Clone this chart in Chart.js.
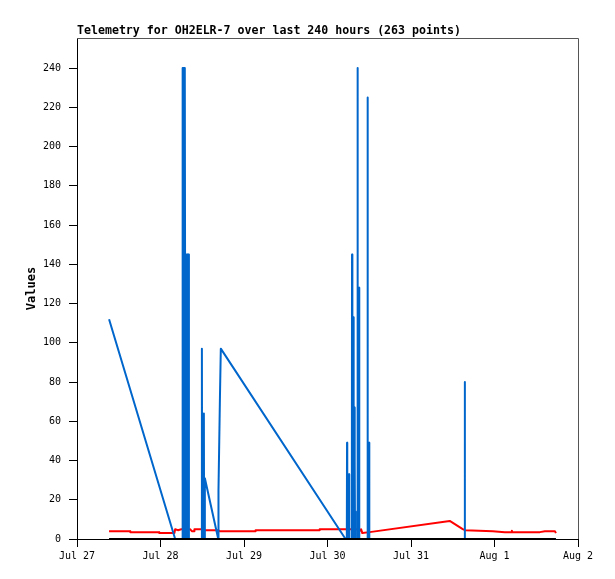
<!DOCTYPE html>
<html>
<head>
<meta charset="utf-8">
<title>Telemetry for OH2ELR-7</title>
<script src="https://cdn.jsdelivr.net/npm/chart.js@4.4.1/dist/chart.umd.min.js"></script>
<style>
  html, body { margin: 0; padding: 0; background: #fff; }
  #chart { display: block; }
</style>
</head>
<body>
<canvas id="chart" width="615" height="579"></canvas>
<script>
/* ===============================
      DATA (times are "MM-DD HH:MM")
   =============================== */
const chartTitle = "Telemetry for OH2ELR-7 over last 240 hours (263 points)";
const yAxisLabel = "Values";

const xTickHours = [0, 24, 48, 72, 96, 120, 144];
const xTickLabels = ["Jul 27", "Jul 28", "Jul 29", "Jul 30", "Jul 31", "Aug 1", "Aug 2"];
const yTickValues = [0, 20, 40, 60, 80, 100, 120, 140, 160, 180, 200, 220, 240];

const blueTimes = [
  "07-27 09:13", "07-28 04:13", "07-28 06:14",
  "07-28 06:18", "07-28 06:26", "07-28 06:34", "07-28 06:42", "07-28 06:50", "07-28 06:56",
  "07-28 07:02", "07-28 07:10", "07-28 07:20", "07-28 07:30", "07-28 07:40", "07-28 07:50",
  "07-28 08:00", "07-28 08:10", "07-28 08:14",
  "07-28 11:50", "07-28 11:54", "07-28 11:58", "07-28 12:24", "07-28 12:28", "07-28 12:32",
  "07-28 12:44", "07-28 12:46", "07-28 16:36",
  "07-28 16:40", "07-28 17:05", "07-28 17:20", "07-30 05:11",
  "07-30 05:33", "07-30 05:37", "07-30 05:41", "07-30 06:07", "07-30 06:11", "07-30 06:15",
  "07-30 06:59", "07-30 07:03", "07-30 07:09", "07-30 07:25", "07-30 07:29", "07-30 07:33",
  "07-30 07:44", "07-30 07:47", "07-30 07:49", "07-30 07:51", "07-30 07:55",
  "07-30 08:02", "07-30 08:04", "07-30 08:08",
  "07-30 08:34", "07-30 08:38", "07-30 08:42", "07-30 09:00", "07-30 09:04", "07-30 09:08",
  "07-30 11:27", "07-30 11:31", "07-30 11:35", "07-30 11:53", "07-30 11:57", "07-30 12:01",
  "07-31 15:23", "07-31 15:27", "07-31 15:31", "08-01 17:39"
];
const blueValues = [
  112, 0, 0,
  240, 0, 240, 0, 240, 0,
  240, 0, 145, 0, 145, 0,
  145, 0, 0,
  0, 97, 0, 0, 64, 0,
  0, 31, 0,
  25, 72, 97, 0,
  0, 49, 0, 0, 33, 0,
  0, 145, 0, 0, 113, 0,
  0, 67, 0, 40, 0,
  0, 14, 0,
  0, 240, 0, 0, 128, 0,
  0, 225, 0, 0, 49, 0,
  0, 80, 0, 0
];

const redTimes = [
  "07-27 09:13", "07-27 15:16", "07-27 15:20", "07-27 23:37", "07-27 23:40", "07-28 04:00",
  "07-28 04:13", "07-28 05:00", "07-28 06:00", "07-28 08:30", "07-28 09:00", "07-28 09:40",
  "07-28 09:45", "07-28 12:00", "07-28 12:30", "07-28 16:40", "07-28 17:00", "07-29 03:16",
  "07-29 03:20", "07-29 21:40", "07-29 21:45", "07-30 09:00", "07-30 09:20", "07-30 09:40",
  "07-30 10:00", "07-30 12:06", "07-31 11:08", "07-31 14:52", "07-31 15:30", "07-31 23:31",
  "08-01 02:58", "08-01 04:55", "08-01 05:00", "08-01 05:05", "08-01 13:03", "08-01 14:29",
  "08-01 17:22", "08-01 17:39"
];
const redValues = [
  4.0, 4.0, 3.5, 3.5, 3.0, 3.0,
  5.0, 4.5, 5.0, 5.0, 4.0, 4.0,
  5.0, 5.0, 4.5, 4.5, 4.0, 4.0,
  4.5, 4.5, 5.0, 5.0, 4.2, 5.0,
  3.0, 3.5, 9.2, 5.0, 4.5, 4.0,
  3.5, 3.5, 4.2, 3.5, 3.5, 4.0,
  4.0, 3.0
];

const blackTimes = ["07-27 09:13", "08-01 17:39"];
const blackValues = [0, 0];

/* ===============================
      HELPERS
   =============================== */
// hours since Jul 27 00:00
function toHours(stamp) {
  const [date, time] = stamp.split(" ");
  const [mon, day] = date.split("-").map(Number);
  const [hh, mm] = time.split(":").map(Number);
  const dayOffset = mon === 7 ? day - 27 : 4 + day;
  return dayOffset * 24 + hh + mm / 60;
}

function toPoints(times, values) {
  return times.map((t, i) => ({ x: toHours(t), y: values[i] }));
}

const FONT = '"DejaVu Sans Mono", "Liberation Mono", monospace';

// title, y label and plot frame
const decorPlugin = {
  id: "decor",
  afterDraw(chart) {
    const { ctx, chartArea } = chart;
    ctx.save();
    ctx.strokeStyle = "#555";
    ctx.lineWidth = 1;
    ctx.beginPath();
    ctx.moveTo(chartArea.left, chartArea.top + 0.5);
    ctx.lineTo(chartArea.right + 0.5, chartArea.top + 0.5);
    ctx.lineTo(chartArea.right + 0.5, chartArea.bottom);
    ctx.stroke();

    ctx.fillStyle = "#000";
    ctx.font = "bold 11.6px " + FONT;
    ctx.textAlign = "left";
    ctx.textBaseline = "alphabetic";
    ctx.fillText(chartTitle, chartArea.left, chartArea.top - 4);

    ctx.translate(32, (chartArea.top + chartArea.bottom) / 2);
    ctx.rotate(-Math.PI / 2);
    ctx.font = "bold 12px " + FONT;
    ctx.textAlign = "center";
    ctx.textBaseline = "middle";
    ctx.fillText(yAxisLabel, 0, 0);
    ctx.restore();
  }
};

/* ===============================
      CHART
   =============================== */
const lineStyle = {
  borderWidth: 2, borderJoinStyle: "round", pointRadius: 0, tension: 0, fill: false, clip: false
};

new Chart(document.getElementById("chart"), {
  type: "line",
  data: {
    datasets: [
      { label: "black", data: toPoints(blackTimes, blackValues), borderColor: "#000000", ...lineStyle },
      { label: "blue", data: toPoints(blueTimes, blueValues), borderColor: "#0066cc", ...lineStyle },
      { label: "red", data: toPoints(redTimes, redValues), borderColor: "#ff0000", ...lineStyle }
    ]
  },
  options: {
    responsive: false,
    animation: false,
    devicePixelRatio: 1,
    parsing: false,
    layout: { padding: { left: 0, right: 37, top: 38, bottom: 0 } },
    plugins: {
      legend: { display: false },
      title: { display: false },
      tooltip: { enabled: false }
    },
    scales: {
      x: {
        type: "linear",
        min: 0,
        max: 144,
        afterBuildTicks: s => { s.ticks = xTickHours.map(v => ({ value: v })); },
        afterFit: s => { s.height = 40; },
        ticks: {
          autoSkip: false,
          maxRotation: 0,
          padding: 3,
          color: "#000",
          font: { family: FONT, size: 10 },
          callback: v => xTickLabels[xTickHours.indexOf(v)]
        },
        grid: { drawOnChartArea: false, drawTicks: true, tickLength: 8, color: "#000" },
        border: { display: true, color: "#000", width: 1 }
      },
      y: {
        type: "linear",
        min: 0,
        max: 255.3,
        afterBuildTicks: s => { s.ticks = yTickValues.map(v => ({ value: v })); },
        afterFit: s => { s.width = 77; },
        ticks: {
          padding: 8,
          color: "#000",
          font: { family: FONT, size: 10 }
        },
        grid: { drawOnChartArea: false, drawTicks: true, tickLength: 8, color: "#000" },
        border: { display: true, color: "#000", width: 1 }
      }
    }
  },
  plugins: [decorPlugin]
});
</script>
</body>
</html>
